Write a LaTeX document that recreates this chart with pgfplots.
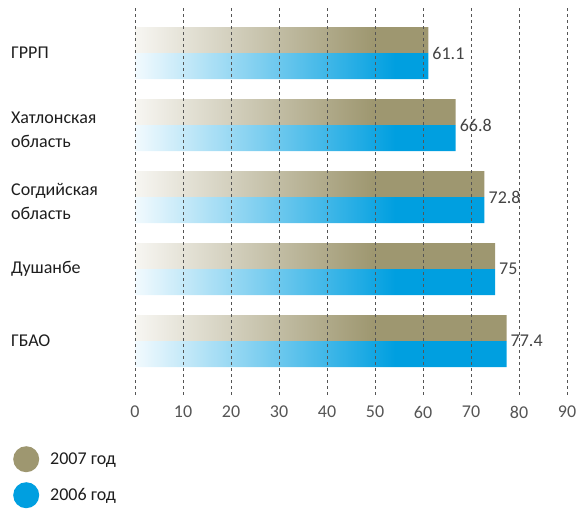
\documentclass[border=0pt]{standalone}
\usepackage{fontspec}
\setmainfont{Carlito}
\usepackage{pgfplots}
\usepackage{pgfplotstable}
\pgfplotsset{compat=1.18}
\definecolor{olC}{HTML}{9E9770}
\definecolor{olL}{HTML}{F7F6F2}
\definecolor{blC}{HTML}{009FE0}
\definecolor{blL}{HTML}{F2FAFE}
\definecolor{gridc}{HTML}{555555}
\definecolor{txt}{HTML}{1E1E1E}
\definecolor{valc}{HTML}{444444}
\pgfdeclarehorizontalshading{olsh}{100bp}{color(0bp)=(olL); color(25bp)=(olL); color(57bp)=(olC); color(100bp)=(olC)}
\pgfdeclarehorizontalshading{blsh}{100bp}{color(0bp)=(blL); color(25bp)=(blL); color(60bp)=(blC); color(100bp)=(blC)}
\newcommand{\twol}[2]{\rule{0pt}{24bp}#1\\#2\rule[-3.4bp]{0pt}{3.4bp}}
\pgfplotstableread{
pos v2007 v2006 lab
0 61.1 61.1 61.1
1 66.8 66.8 66.8
2 72.8 72.8 72.8
3 75 75 75
4 77.4 77.4 77.4
}\datatab
\begin{document}
\begin{tikzpicture}
\begin{axis}[
  scale only axis, width=432bp, height=390bp,
  xmin=0, xmax=90, ymin=-0.625, ymax=4.79, y dir=reverse,
  xtick={0,10,...,90}, ytick={0,1,2,3,4},
  yticklabels={ГРРП,{\twol{Хатлонская}{область}},{\twol{Согдийская}{область}},Душанбе,ГБАО},
  axis line style={draw=none}, major tick length=0pt,
  xmajorgrids, major grid style={gridc, line width=0.7bp, dash pattern=on 3bp off 3bp},
  axis on top,
  /pgf/number format/assume math mode=true,
  xticklabel style={anchor=center, yshift=-14bp, font=\fontsize{18bp}{20bp}\selectfont, text=gridc},
  yticklabel style={anchor=west, align=left, inner sep=0pt, xshift=-124bp, font=\fontsize{18bp}{24bp}\selectfont, text=txt},
  legend style={at={(axis description cs:-0.2824,-0.1231)}, anchor=north west, draw=none, fill=white, inner sep=0pt, row sep=10bp, column sep=9bp, font=\fontsize{18bp}{20bp}\selectfont, text=txt},
  legend cell align=left,
  clip=false,
]
\addplot[xbar, bar width=26bp, bar shift=13bp, draw=none, shade, shading=olsh, forget plot] table[x=v2007, y=pos] {\datatab};
\addplot[xbar, bar width=26bp, bar shift=-13bp, draw=none, shade, shading=blsh, forget plot] table[x=v2006, y=pos] {\datatab};
\addplot[only marks, mark=none, nodes near coords, point meta=explicit symbolic, forget plot,
  nodes near coords style={anchor=west, xshift=4bp, inner sep=0pt, font=\fontsize{18bp}{20bp}\selectfont, text=valc}]
  table[x=v2007, y=pos, meta=lab] {\datatab};
\addlegendimage{olC, fill=olC, legend image code/.code={\path[draw=none, fill=olC] (13bp,0bp) circle (13bp);}}
\addlegendentry{2007 год}
\addlegendimage{blC, fill=blC, legend image code/.code={\path[draw=none, fill=blC] (13bp,0bp) circle (13bp);}}
\addlegendentry{2006 год}
\end{axis}
\pgfresetboundingbox
\path (-135bp,-112bp) rectangle (442bp,398bp);
\end{tikzpicture}
\end{document}
